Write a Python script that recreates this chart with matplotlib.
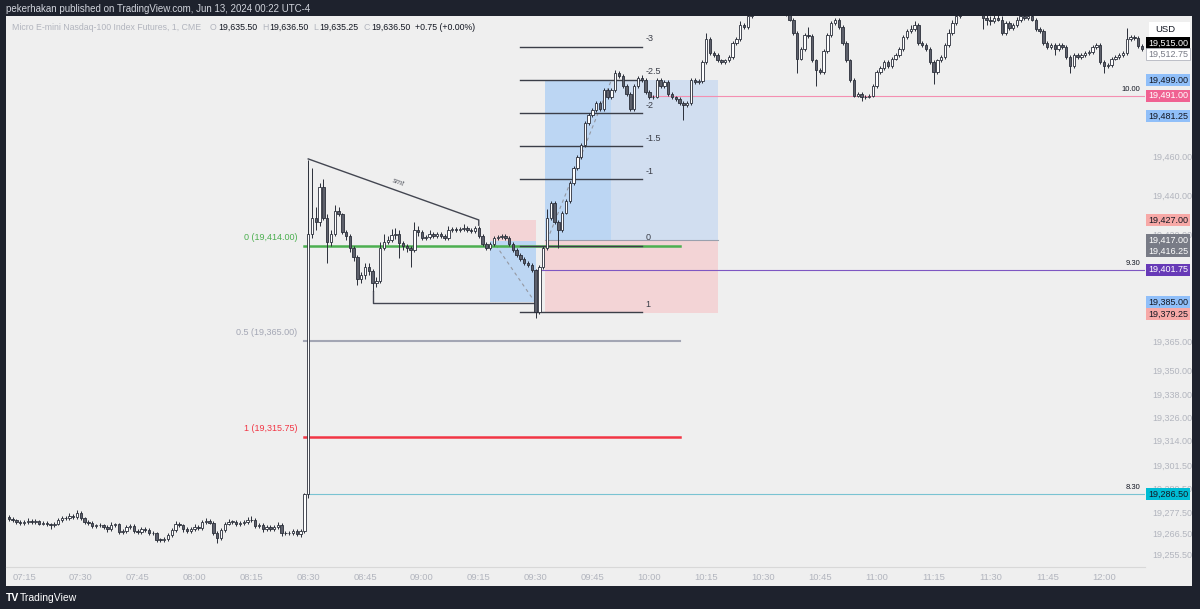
import numpy as np
import matplotlib.pyplot as plt
from matplotlib.patches import Rectangle
from matplotlib.lines import Line2D
from matplotlib.transforms import blended_transform_factory

plt.rcParams['font.family'] = ['Liberation Sans', 'DejaVu Sans']

# 1 minute bars, index 0 = 07:15, first bar shown = 07:11
first_open = 19275.0
closes = [
    19274, 19273.5, 19272.5, 19271.8, 19272.5, 19273, 19272.5, 19273, 19271.5, 19271.6,
    19271.3, 19270.5, 19271.5, 19273.5, 19274.2, 19274.5, 19275.4, 19275, 19276.8, 19274.2,
    19272.5, 19271.8, 19270.3, 19270.5, 19270.8, 19269.6, 19268.5, 19270.8, 19271, 19267,
    19267.5, 19269.6, 19270, 19267.5, 19267, 19268.5, 19268, 19266.5, 19266.8, 19263.2,
    19263, 19263.4, 19265.7, 19268.2, 19271.5, 19270.5, 19268.5, 19267.8, 19268.5, 19269.8,
    19269.2, 19272.5, 19273, 19272, 19266.5, 19264, 19268, 19271.5, 19272.4, 19272.5,
    19271.4, 19271.6, 19272.4, 19273.5, 19273.2, 19270.3, 19270.8, 19268.5, 19269.5, 19268.5,
    19269.8, 19270.8, 19266.5, 19266.8, 19266.5, 19267.5, 19266, 19267.5, 19286.5, 19420,
    19428, 19426, 19444, 19428, 19416, 19420, 19432, 19430, 19421, 19419,
    19413, 19408, 19397, 19399, 19403, 19401, 19395, 19396, 19413, 19416,
    19417, 19419.5, 19420, 19415.5, 19414, 19413, 19412, 19422, 19421, 19418,
    19418.5, 19420, 19419, 19420, 19419, 19418, 19422, 19422.5, 19422, 19422.5,
    19423, 19422, 19421.5, 19423, 19419, 19415, 19413, 19415, 19418, 19418.5,
    19419, 19418, 19415, 19412, 19409, 19407, 19405, 19404, 19401.75, 19380,
    19403, 19413, 19428, 19436, 19426, 19422, 19431, 19437, 19446, 19454,
    19459.5, 19465.6, 19477, 19481, 19483.6, 19487, 19484, 19494, 19490, 19494,
    19502.5, 19501, 19496, 19492, 19484, 19496, 19500, 19499, 19493, 19490,
    19490.5, 19499, 19496, 19498, 19492, 19490, 19489, 19487, 19486, 19487,
    19499, 19498, 19498.5, 19508, 19520, 19513, 19512, 19509, 19508, 19509,
    19511, 19518, 19520, 19527, 19526, 19532, 19536, 19540, 19538, 19542,
    19545, 19540, 19537, 19539, 19535, 19533, 19530, 19523, 19510, 19515,
    19522, 19521.5, 19509, 19504, 19503, 19514, 19522, 19528, 19530, 19526,
    19518, 19509, 19499, 19491, 19492, 19490, 19490.5, 19491, 19496, 19503,
    19505, 19508, 19506, 19510, 19512, 19515, 19521, 19524, 19525, 19527,
    19518, 19517, 19515, 19508, 19503, 19509, 19511, 19517, 19523, 19528,
    19532, 19536, 19540, 19542, 19538, 19541, 19537, 19531, 19530, 19529,
    19531, 19530, 19523, 19528, 19525.5, 19527, 19529.5, 19532, 19531, 19532,
    19530, 19525, 19524, 19518, 19516, 19517, 19515, 19517, 19516, 19511,
    19506, 19512, 19511, 19512, 19513, 19513.5, 19516, 19517, 19508, 19506,
    19506.5, 19510, 19511, 19512, 19513, 19520, 19521, 19520.5, 19516.5, 19515,
]
wick_up = [
    1, 1, 0.5, 1, 1, 1.5, 1, 1, 0.5, 1,
    1, 0.5, 1, 1, 1, 1, 1.5, 1, 1.7, 1,
    0.5, 1, 1, 1, 1, 0.5, 1, 1.5, 1, 1,
    1, 1, 1.5, 1, 1, 1, 1, 1, 1, 0.5,
    1, 1, 1, 1, 1.5, 1, 1, 1, 1, 1.5,
    1, 1, 1.5, 1, 1, 1, 1, 1, 1.5, 1,
    1, 1, 1, 1.5, 2, 1, 1, 1, 1, 1,
    1, 1.5, 1, 1, 1, 1, 1, 1, 0.5, 38,
    26, 6, 2, 4, 2, 2, 3, 2, 1, 1,
    1, 1, 1, 1.5, 2, 2, 1, 2, 3, 4,
    2, 3, 3, 2, 1, 1, 1, 4, 2, 1,
    1, 2, 1, 1, 1, 1, 2, 1, 1, 1,
    2, 1, 1, 1, 1, 1, 1, 1, 1, 1,
    1, 1, 1, 1, 1, 1, 1, 1, 1, 0.5,
    1, 1, 5, 1, 1, 1, 1, 1, 1, 1,
    1, 1, 1, 1, 1, 1, 1, 1, 1, 1,
    1.5, 1, 1, 1, 1, 1, 1, 1.5, 1, 1,
    1, 1, 1, 1, 1, 1, 1, 1, 1, 1,
    1, 1, 1, 1, 3, 1, 1, 1, 1, 1,
    1, 1, 1, 2, 1, 2, 2, 2, 2, 2,
    3, 2, 2, 2, 2, 2, 3, 1, 1, 1,
    1, 4, 1, 1, 1, 1, 1, 1, 1, 1,
    1, 1, 1, 1, 1, 1, 1, 1, 1, 1,
    1, 1, 1, 1, 1, 1, 1, 1, 2, 2,
    1, 1, 1, 1, 1, 1, 1, 1, 2, 2,
    3, 2, 2, 2, 2, 2, 2, 4, 2, 2,
    2, 3, 2, 1, 1, 1, 2, 2, 2, 1,
    1, 1, 1, 1, 1, 1, 1, 1, 1, 1,
    1, 1, 1, 1, 1, 1, 1, 1, 1, 1,
    1, 1, 1, 1, 1, 5.6, 1, 1, 1, 1,
]
wick_dn = [
    1, 1, 1, 1, 1, 1, 1, 1, 1, 1,
    1, 2, 1, 1, 1, 1, 1, 1, 1, 1,
    1, 1, 1, 1, 1, 1, 1.5, 1, 1, 1,
    1, 1, 1, 1, 1, 1, 1, 1, 1, 1,
    1, 1, 1, 1, 1, 1, 1.5, 1, 1, 1,
    1, 1, 1, 1, 1, 2.5, 1, 1, 1, 1,
    1, 1, 1, 1, 1, 1, 1, 1.5, 1, 1,
    1, 1, 1.5, 1, 1, 1, 1, 1.5, 1, 2,
    2, 4, 2, 1, 11, 2, 1, 1, 1, 2,
    2, 2, 3, 2, 2, 2, 4, 2, 1, 1,
    1, 1, 2, 8, 2, 2, 9, 1, 2, 1,
    1, 1, 1, 1, 1, 1, 1, 1, 1, 1,
    1, 1, 1, 1, 1, 1, 1, 1, 1, 1,
    1, 1, 1, 1, 1, 1, 1, 1, 1, 3,
    1, 1, 1, 1, 1, 9, 1, 1, 1, 1,
    1, 1, 1, 1, 1, 1, 1, 1, 1, 1,
    1, 1, 1, 1, 1, 1, 1, 1, 1, 1,
    1, 1, 1, 1, 1, 1, 1, 1, 7.5, 1,
    1, 1, 1, 1, 1, 1, 1, 1, 1, 1,
    1, 1, 1, 1, 1, 1, 1, 1, 1, 1,
    1, 1, 1, 1, 1, 1, 1, 1, 7.4, 1,
    1, 1, 1, 8, 1, 1, 1, 1, 1, 1,
    1, 1, 1, 1, 1, 2, 1, 1, 1, 1,
    1, 1, 1, 1, 1, 1, 1, 1, 1, 1,
    1, 1, 1, 1, 6, 1, 1, 1, 1, 1,
    1, 1, 1, 1, 1, 1, 1, 6, 3, 2,
    1, 1, 1, 1, 1, 1, 1, 1, 1, 1,
    1, 1, 1, 1, 1, 1, 3, 1, 1, 1,
    3.4, 1, 1, 1, 1, 1, 1, 1, 1, 3.4,
    1, 1, 1, 1, 1, 1, 1, 1, 1, 1,
]

time_labels = ['07:15', '07:30', '07:45', '08:00', '08:15', '08:30', '08:45', '09:00', '09:15', '09:30',
               '09:45', '10:00', '10:15', '10:30', '10:45', '11:00', '11:15', '11:30', '11:45', '12:00']
price_ticks = [19460, 19440, 19420, 19365, 19350, 19338, 19326, 19314, 19301.5, 19289.5,
               19277.5, 19266.5, 19255.5]

# fib retracement of the 8:30 spike
retr_labels = ['0 (19,414.00)', '0.5 (19,365.00)', '1 (19,315.75)']
retr_prices = [19414.0, 19365.0, 19315.75]
retr_colors = ['#4caf50', '#a3a6b4', '#f23645']
retr_span = (74, 173)

# fib extension
ext_zero, ext_one = 19414.0, 19380.0
ext_levels = [-3, -2.5, -2, -1.5, -1, 0, 1]
ext_span = (131, 163)

# session open lines
sess_names = ['8.30', '9.30', '10.00']
sess_prices = [19286.5, 19401.75, 19491.0]
sess_start = [75, 135, 165]
sess_colors = ['#79c3d2', '#7e57c2', '#f48fb1']

# positions (short then long)
pos1_span = (123, 135)
pos1_entry, pos1_stop, pos1_target = 19416.25, 19427.0, 19385.0
pos2_span = (137.6, 183)
pos2_hit = 155
pos2_entry, pos2_stop, pos2_target = 19417.0, 19379.25, 19499.0

# axis tags
tag_prices = [19515.0, 19512.75, 19499.0, 19491.0, 19481.25, 19427.0, 19417.0, 19416.25,
              19401.75, 19385.0, 19379.25, 19286.5]
tag_faces = ['#000000', '#ffffff', '#90bff9', '#f06292', '#90bff9', '#f7a9a7', '#787b86', '#787b86',
             '#673ab7', '#90bff9', '#f7a9a7', '#00bcd4']
tag_text = ['white', '#787b86', '#131722', 'white', '#131722', '#131722', 'white', 'white',
            'white', '#131722', '#131722', '#131722']
tag_nudge = [-5.5, 1, 0, 0, 1.5, 0, 0, 10, 0, 0, 0.5, 0]

W, H = 1200, 609
def fx(px):
    return px / W
def fy(py):
    return 1 - py / H

fig = plt.figure(figsize=(12, 6.09), dpi=100, facecolor='#1e222d')
fig.add_artist(Rectangle((fx(6), fy(586)), fx(1192) - fx(6), fy(16) - fy(586),
                         transform=fig.transFigure, facecolor='#efefef', edgecolor='none', zorder=-5))

ax = fig.add_axes([fx(6), fy(567), fx(1145) - fx(6), fy(16) - fy(567)])
ax.set_facecolor('#efefef')
for s in ax.spines.values():
    s.set_visible(False)
ymin, ymax = 19249.2, 19531.8
ax.set_xlim(-4.75, 295.8)
ax.set_ylim(ymin, ymax)
ppu = (567 - 16) / (ymax - ymin)  # pixels per point

# candles
n = len(closes)
idx = np.arange(n) - 4
c = np.array(closes, dtype=float)
o = np.concatenate([[first_open], c[:-1]])
hi = np.maximum(o, c) + np.array(wick_up)
lo = np.minimum(o, c) - np.array(wick_dn)
up = c >= o

# position boxes
ax.add_patch(Rectangle((pos1_span[0], pos1_entry), pos1_span[1] - pos1_span[0], pos1_stop - pos1_entry,
                       facecolor='#f3d4d6', edgecolor='none', zorder=1))
ax.add_patch(Rectangle((pos1_span[0], pos1_target), pos1_span[1] - pos1_span[0], pos1_entry - pos1_target,
                       facecolor='#bcd6f3', edgecolor='none', zorder=1))
ax.plot([pos1_span[0] + 1.5, pos1_span[1] - 0.5], [pos1_entry - 2, pos1_target + 1],
        ls=(0, (3, 3)), color='#9598a1', lw=0.8, zorder=2)

ax.add_patch(Rectangle((pos2_span[0], pos2_stop), pos2_span[1] - pos2_span[0], pos2_entry - pos2_stop,
                       facecolor='#f3d4d6', edgecolor='none', zorder=1))
ax.add_patch(Rectangle((pos2_span[0], pos2_entry), pos2_span[1] - pos2_span[0], pos2_target - pos2_entry,
                       facecolor='#d1def0', edgecolor='none', zorder=1))
ax.add_patch(Rectangle((pos2_span[0], pos2_entry), pos2_hit - pos2_span[0], pos2_target - pos2_entry,
                       facecolor='#bcd6f3', edgecolor='none', zorder=1))
ax.plot([pos2_span[0] + 0.5, pos2_hit], [pos2_entry, pos2_target], ls=(0, (3, 3)),
        color='#9598a1', lw=0.8, zorder=2)
ax.plot(pos2_span, [pos2_entry, pos2_entry], color='#9aa0ad', lw=0.8, zorder=2)

# fib retracement
for lab, p, col, w in zip(retr_labels, retr_prices, retr_colors, [1.8, 1.5, 1.8]):
    ax.plot(retr_span, [p, p], color=col, lw=w, zorder=2)
    ax.annotate(lab, (retr_span[0] - 1.8, p), xytext=(0, 3), textcoords='offset points',
                ha='right', va='bottom', fontsize=6.5, color=col)

# fib extension
for lv in ext_levels:
    p = ext_zero + lv * (ext_one - ext_zero)
    ax.plot(ext_span, [p, p], color='#3b3e48', lw=1.0, zorder=2)
    ax.annotate(f'{lv:g}', (ext_span[1] + 1, p), xytext=(0, 2.5), textcoords='offset points',
                ha='left', va='bottom', fontsize=6.5, color='#3b3e48')

# session open lines
for name, p, st, col in zip(sess_names, sess_prices, sess_start, sess_colors):
    ax.plot([st, 295.8], [p, p], color=col, lw=0.8, zorder=2)
    ax.annotate(name, (294.5, p), xytext=(0, 2), textcoords='offset points',
                ha='right', va='bottom', fontsize=5.5, color='#131722')

# smt line and range low
ax.plot([75, 120, 120], [19458.5, 19427.2, 19424.5], color='#434651', lw=1.0, zorder=2)
ax.text(98.5, 19444.8, 'smt', rotation=-19.7, rotation_mode='anchor', ha='center', va='bottom',
        fontsize=5.5, color='#555861', style='italic')
ax.plot([92, 92, 134.8], [19391, 19384.8, 19384.8], color='#434651', lw=1.0, zorder=2)

ax.vlines(idx, lo, hi, color='#2a2e39', lw=0.7, zorder=3)
body_bottom = np.minimum(o, c)
body_h = np.maximum(np.abs(c - o), 0.35)
ax.bar(idx, body_h, bottom=body_bottom, width=0.64, color=np.where(up, '#ffffff', '#5d606b'),
       edgecolor='#2a2e39', linewidth=0.6, zorder=4)

# time axis
ax.set_xticks(np.arange(len(time_labels)) * 15, time_labels)
ax.tick_params(axis='x', length=0, pad=4, labelsize=6.8, labelcolor='#b2b5be')
fig.add_artist(Line2D([fx(6), fx(1145)], [fy(567), fy(567)], transform=fig.transFigure,
                      color='#d8d8d8', lw=0.8))

# price axis
ax.yaxis.tick_right()
ax.set_yticks(price_ticks, [f'{v:,.2f}' for v in price_ticks])
ax.tick_params(axis='y', length=0, pad=5, labelsize=6.5, labelcolor='#b2b5be')

tr = blended_transform_factory(fig.transFigure, ax.transData)
bh = 12 / ppu
for p, fc, tc, nd in zip(tag_prices, tag_faces, tag_text, tag_nudge):
    yc = p - nd / ppu
    ax.add_patch(Rectangle((fx(1146), yc - bh / 2), fx(1190) - fx(1146), bh, transform=tr,
                           facecolor=fc, edgecolor='#b2b5be' if fc == '#ffffff' else 'none',
                           lw=0.6, clip_on=False, zorder=6))
    ax.text(fx(1168), yc, f'{p:,.2f}', transform=tr, ha='center', va='center', fontsize=6.5,
            color=tc, clip_on=False, zorder=7)

fig.add_artist(Rectangle((fx(1149), fy(37)), fx(1190) - fx(1149), fy(22) - fy(37),
                         transform=fig.transFigure, facecolor='white', edgecolor='none', zorder=5))
fig.text(fx(1155), fy(29.5), 'USD', fontsize=6.8, color='#131722', va='center', zorder=6)

# header texts
fig.text(fx(6), fy(9), 'pekerhakan published on TradingView.com, Jun 13, 2024 00:22 UTC-4',
         fontsize=7, color='#d1d4dc', va='center')

renderer = fig.canvas.get_renderer()
pieces = [('Micro E-mini Nasdaq-100 Index Futures, 1, CME', '#b2b5be', 9),
          ('O', '#b2b5be', 1), ('19,635.50', '#131722', 5),
          ('H', '#b2b5be', 1), ('19,636.50', '#131722', 5),
          ('L', '#b2b5be', 1), ('19,635.25', '#131722', 5),
          ('C', '#b2b5be', 1), ('19,636.50', '#131722', 5),
          ('+0.75 (+0.00%)', '#131722', 0)]
xpos = 12
for txt, col, gap in pieces:
    t = fig.text(fx(xpos), fy(27), txt, fontsize=6.3, color=col, va='center')
    xpos = t.get_window_extent(renderer).x1 + gap

fig.text(fx(6), fy(598), 'TV', fontsize=7.5, color='white', weight='bold', va='center')
fig.text(fx(20), fy(598), 'TradingView', fontsize=7.5, color='white', va='center')

fig.savefig('out.png', dpi=100, facecolor=fig.get_facecolor())
